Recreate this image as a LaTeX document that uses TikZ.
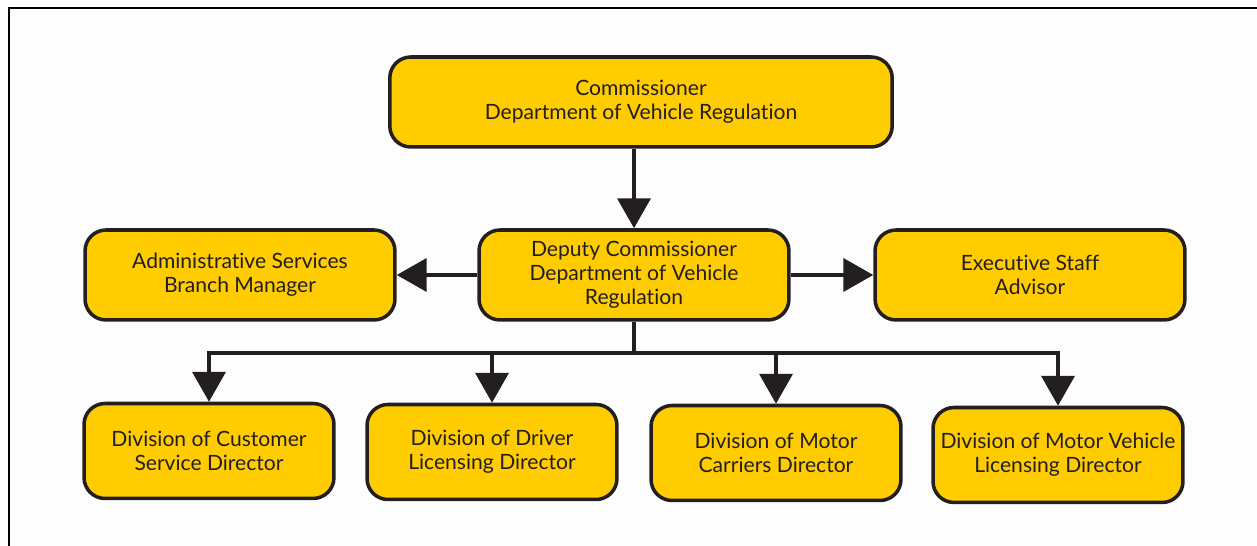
\documentclass[tikz,border=0pt]{standalone}
\usepackage{fontspec}
\setmainfont{Lato}[Ligatures={NoCommon}]
\usetikzlibrary{arrows.meta,calc}
\definecolor{boxyellow}{RGB}{255,204,0}
\definecolor{boxline}{RGB}{35,31,32}
\definecolor{paper}{RGB}{253,253,253}

\begin{document}
\begin{tikzpicture}[x=0.02cm, y=-0.02cm,
	post/.style={rectangle, rounded corners=0.42cm, draw=boxline, line width=2pt, fill=boxyellow,
		text=boxline, align=center, font=\fontsize{12}{13.6}\selectfont},
	conn/.style={draw=boxline, line width=2.3pt, -{Triangle[length=0.6cm, width=0.66cm]}},
	bus/.style={draw=boxline, line width=2.3pt}]
	%%%%% START %%%%%
	
	\fill[paper] (0, 0) rectangle (1257, 546);
	\useasboundingbox (0, 0) rectangle (1257, 546);
	\draw[line width=1.6pt] (9, 546) -- (9, 8) -- (1257, 8);
	
	\node[post, minimum width=10.05cm, minimum height=1.8cm] (comm) at (641, 102) {Commissioner\\Department of Vehicle Regulation};
	
	\node[post, minimum width=6.2cm, minimum height=1.8cm] (dep) at (634, 275) {Deputy Commissioner\\Department of Vehicle\\Regulation};
	\node[post, minimum width=6.2cm, minimum height=1.8cm] (admin) at (240, 275) {Administrative Services\\Branch Manager};
	\node[post, minimum width=6.2cm, minimum height=1.8cm] (exec) at (1030, 275) {Executive Staff\\Advisor};
	
	\node[post, minimum width=5.0cm, minimum height=1.9cm] (cust) at (209, 451) {Division of Customer\\Service Director};
	\node[post, minimum width=5.0cm, minimum height=1.9cm] (drv) at (492, 452) {Division of Driver\\Licensing Director};
	\node[post, minimum width=5.0cm, minimum height=1.9cm] (mc) at (776, 453) {Division of Motor\\Carriers Director};
	\node[post, minimum width=5.0cm, minimum height=1.9cm] (mvl) at (1058, 455) {Division of Motor Vehicle\\Licensing Director};
	
	\coordinate (bus) at (634, 353);
	
	\draw[conn] (dep.north |- comm.south) -- (dep.north);
	\draw[conn] (dep.west) -- (admin.east);
	\draw[conn] (dep.east) -- (exec.west);
	
	\draw[bus] (dep.south) -- (bus);
	\draw[bus, line cap=rect] (cust.north |- bus) -- (mvl.north |- bus);
	\foreach \n in {cust, drv, mc, mvl}
		\draw[conn] (\n.north |- bus) -- (\n.north);
	
	%%%%% END %%%%%
\end{tikzpicture}
\end{document}
